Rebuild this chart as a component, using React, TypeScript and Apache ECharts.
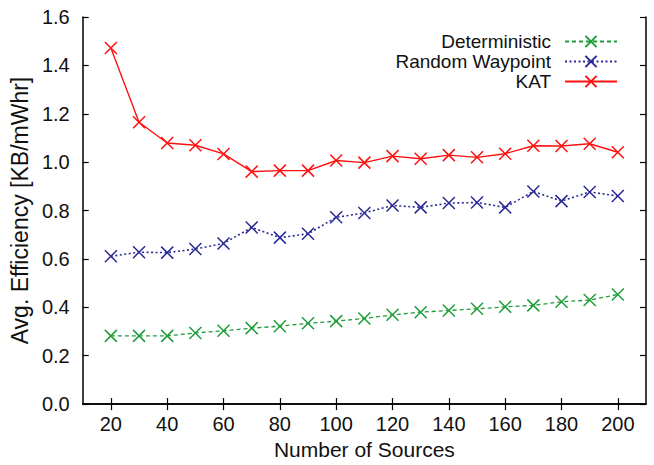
import React, { useEffect, useRef } from "react";
import * as echarts from "echarts";

// Number of sources on the x axis
const sources = [20, 30, 40, 50, 60, 70, 80, 90, 100, 110, 120, 130, 140, 150, 160, 170, 180, 190, 200];

// Average efficiency in KB/mWhr
const deterministic = [0.282, 0.282, 0.282, 0.294, 0.303, 0.314, 0.322, 0.334, 0.343, 0.354, 0.369, 0.38, 0.387, 0.394, 0.402, 0.408, 0.423, 0.43, 0.453];
const randomWaypoint = [0.611, 0.628, 0.626, 0.641, 0.664, 0.73, 0.688, 0.704, 0.772, 0.79, 0.821, 0.813, 0.831, 0.833, 0.813, 0.879, 0.839, 0.877, 0.86];
const kat = [1.472, 1.165, 1.079, 1.07, 1.034, 0.961, 0.965, 0.965, 1.007, 0.998, 1.025, 1.014, 1.029, 1.02, 1.035, 1.068, 1.067, 1.076, 1.041];

const xTicks = [20, 40, 60, 80, 100, 120, 140, 160, 180, 200];

const FONT = "'Liberation Sans', Arial, sans-serif";
const CROSS = "path://M0 0L10 10M0 10L10 0";

const makeSeries = (name: string, values: number[], color: string, type: any, width: number) => ({
  name,
  type: "line",
  data: sources.map((s, i) => [s, values[i]]),
  symbol: CROSS,
  symbolSize: 12,
  itemStyle: { color: "rgba(0,0,0,0)", borderColor: color, borderWidth: 1.5 },
  lineStyle: { color, type, width },
  emphasis: { disabled: true },
});

// One legend per entry so the texts end at a common right edge
const makeLegend = (name: string, top: number) => ({
  data: [name],
  right: 36,
  top,
  padding: 0,
  orient: "vertical",
  align: "right",
  itemWidth: 52,
  itemHeight: 14,
  selectedMode: false,
  textStyle: { fontFamily: FONT, fontSize: 19, lineHeight: 19, color: "#111", padding: [0, 9, 0, 0] },
});

export default function App() {
  const ref = useRef<HTMLDivElement>(null);

  useEffect(() => {
    if (!ref.current) return;
    const chart = echarts.init(ref.current, undefined, { renderer: "svg" });
    const axisLine = { show: true, lineStyle: { color: "#000", width: 1.5 } };
    const innerTick = { show: true, inside: true, length: 6, lineStyle: { color: "#000", width: 1.2 } };
    chart.setOption({
      animation: false,
      backgroundColor: "#fff",
      grid: { left: 82, right: 8, top: 17, bottom: 55, containLabel: false },
      legend: [
        makeLegend("Deterministic", 32),
        makeLegend("Random Waypoint", 52),
        makeLegend("KAT", 72),
      ],
      xAxis: [
        {
          type: "value",
          min: 10,
          max: 210,
          name: "Number of Sources",
          nameLocation: "middle",
          nameGap: 31,
          nameTextStyle: { fontFamily: FONT, fontSize: 21, color: "#111" },
          axisLine,
          axisTick: { ...innerTick, customValues: xTicks },
          axisLabel: { customValues: xTicks, fontFamily: FONT, fontSize: 20, color: "#111", margin: 10 },
          splitLine: { show: false },
        },
        {
          type: "value",
          position: "top",
          min: 10,
          max: 210,
          axisLine,
          axisTick: { ...innerTick, customValues: xTicks },
          axisLabel: { show: false },
          splitLine: { show: false },
        },
      ],
      yAxis: [
        {
          type: "value",
          min: 0,
          max: 1.6,
          interval: 0.2,
          name: "Avg. Efficiency [KB/mWhr]",
          nameLocation: "middle",
          nameGap: 43,
          nameTextStyle: { fontFamily: FONT, fontSize: 23, color: "#111" },
          axisLine,
          axisTick: innerTick,
          axisLabel: {
            fontFamily: FONT,
            fontSize: 20,
            color: "#111",
            margin: 13,
            formatter: (v: number) => v.toFixed(1),
          },
          splitLine: { show: false },
        },
        {
          type: "value",
          position: "right",
          min: 0,
          max: 1.6,
          interval: 0.2,
          axisLine,
          axisTick: innerTick,
          axisLabel: { show: false },
          splitLine: { show: false },
        },
      ],
      series: [
        makeSeries("Deterministic", deterministic, "#1f9d3a", [4, 3], 1.3),
        makeSeries("Random Waypoint", randomWaypoint, "#2a2a95", [2, 2.5], 1.6),
        makeSeries("KAT", kat, "#ff1010", "solid", 1.4),
      ],
    });
    return () => chart.dispose();
  }, []);

  return <div ref={ref} style={{ width: 654, height: 465, position: "absolute", left: 0, top: 0 }} />;
}
